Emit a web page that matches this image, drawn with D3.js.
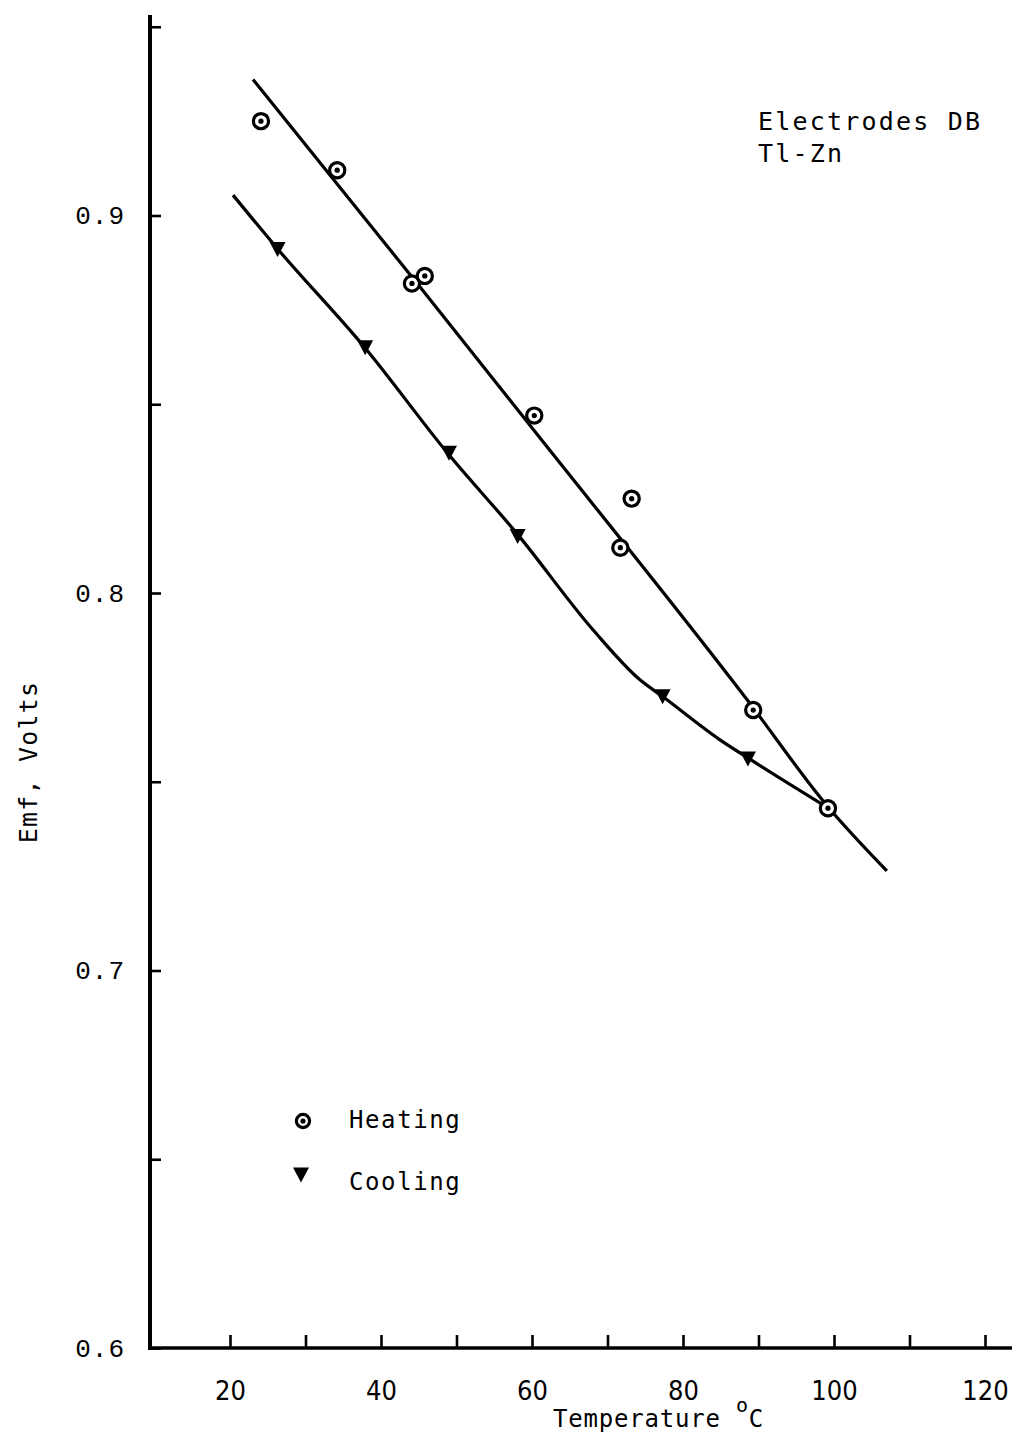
<!DOCTYPE html>
<html><head><meta charset="utf-8">
<script src="https://cdn.jsdelivr.net/npm/d3@7"></script>
<style>
body{margin:0;background:#fff}
text{fill:#000}
</style>
</head><body>
<svg id="chart" width="1018" height="1436"></svg>
<script>
// Heating run: measured points (temperature in °C, emf in volts)
const heatingTemp = [24.1, 34.2, 44.1, 45.8, 60.3, 73.2, 71.7, 89.3, 99.2];
const heatingEmf  = [0.925, 0.912, 0.882, 0.884, 0.847, 0.825, 0.812, 0.769, 0.743];
// Cooling run: measured points
const coolingTemp = [26.3, 37.9, 49.0, 58.1, 77.3, 88.6];
const coolingEmf  = [0.891, 0.865, 0.837, 0.815, 0.7725, 0.756];
// Hand-drawn curve through the heating run
const heatingCurveTemp = [23.05, 45.2, 59.7, 88.5, 99.1, 107.0];
const heatingCurveEmf  = [0.936, 0.881, 0.8445, 0.7717, 0.7436, 0.7264];
// Hand-drawn curve through the cooling run, meeting the last heating point
const coolingCurveTemp = [20.4, 26.2, 37.9, 49.0, 58.15, 68.1, 74.3, 77.35, 84.9, 88.6, 99.1];
const coolingCurveEmf  = [0.9054, 0.8914, 0.8649, 0.8366, 0.8154, 0.7902, 0.777, 0.7725, 0.7611, 0.7563, 0.7432];
// Axis ticks and labels
const tempTicks = [20, 30, 40, 50, 60, 70, 80, 90, 100, 110, 120];
const tempTickLabels = ["20", "", "40", "", "60", "", "80", "", "100", "", "120"];
const emfTicks = [0.6, 0.65, 0.7, 0.75, 0.8, 0.85, 0.9, 0.95];
const emfTickLabels = ["0.6", "", "0.7", "", "0.8", "", "0.9", ""];

const svg = d3.select("#chart");
const x = d3.scaleLinear().domain([20, 120]).range([230, 985]);
const y = d3.scaleLinear().domain([0.6, 0.9]).range([1348, 215.5]);
const x0 = 150, yTop = 15, xRight = 1012;

const mono = "'DejaVu Sans Mono', 'Liberation Mono', monospace";

// Y axis
const yAxis = svg.append("g").attr("transform", `translate(${x0},0)`)
  .call(d3.axisLeft(y).tickValues(emfTicks).tickSize(-11).tickPadding(25)
    .tickFormat((d, i) => emfTickLabels[i]));
yAxis.select(".domain").remove();
yAxis.selectAll(".tick line").attr("stroke", "#000").attr("stroke-width", 2.6);
yAxis.selectAll(".tick text").attr("font-family", "'Liberation Mono', monospace")
  .attr("font-size", 26).attr("letter-spacing", 1);
svg.append("line").attr("x1", x0).attr("x2", x0).attr("y1", yTop).attr("y2", y(0.6) + 2)
  .attr("stroke", "#000").attr("stroke-width", 4);

// X axis
const xAxis = svg.append("g").attr("transform", `translate(0,${y(0.6)})`)
  .call(d3.axisBottom(x).tickValues(tempTicks).tickSize(-13).tickPadding(33)
    .tickFormat((d, i) => tempTickLabels[i]));
xAxis.select(".domain").remove();
xAxis.selectAll(".tick line").attr("stroke", "#000").attr("stroke-width", 2.6);
xAxis.selectAll(".tick text").attr("font-family", "'Liberation Sans Narrow', 'DejaVu Sans Condensed', sans-serif")
  .attr("font-size", 27);
svg.append("line").attr("x1", x0 - 2).attr("x2", xRight).attr("y1", y(0.6)).attr("y2", y(0.6))
  .attr("stroke", "#000").attr("stroke-width", 3.6);

// Axis titles
const xt = svg.append("text").attr("x", 553).attr("y", 1427)
  .attr("font-family", mono).attr("font-size", 24).attr("letter-spacing", 0.8);
xt.append("tspan").text("Temperature ");
xt.append("tspan").attr("font-size", 20).attr("dy", -15).text("o");
xt.append("tspan").attr("dy", 15).text("C");

svg.append("text").attr("transform", "translate(37,762) rotate(-90)")
  .attr("text-anchor", "middle").attr("font-family", mono).attr("font-size", 25)
  .attr("letter-spacing", 1.2).text("Emf, Volts");

// Annotation
svg.append("text").attr("x", 758).attr("y", 130).attr("font-family", mono)
  .attr("font-size", 25).attr("letter-spacing", 2.2).text("Electrodes DB");
svg.append("text").attr("x", 758).attr("y", 162).attr("font-family", mono)
  .attr("font-size", 25).attr("letter-spacing", 2.2).text("Tl-Zn");

// Curves
const line = d3.line().x(d => x(d[0])).y(d => y(d[1])).curve(d3.curveMonotoneX);
svg.append("path").datum(d3.zip(heatingCurveTemp, heatingCurveEmf)).attr("d", line)
  .attr("fill", "none").attr("stroke", "#000").attr("stroke-width", 3.2);
svg.append("path").datum(d3.zip(coolingCurveTemp, coolingCurveEmf)).attr("d", line)
  .attr("fill", "none").attr("stroke", "#000").attr("stroke-width", 3.2);

// Markers
function heatMarker(g, cx, cy, r) {
  g.append("circle").attr("cx", cx).attr("cy", cy).attr("r", r)
    .attr("fill", "#fff").attr("stroke", "#000").attr("stroke-width", 3.2);
  g.append("circle").attr("cx", cx).attr("cy", cy).attr("r", 2.6).attr("fill", "#000");
}
function coolMarker(g, cx, cy, w, h) {
  g.append("path")
    .attr("d", `M${cx - w / 2},${cy - h / 2}L${cx + w / 2},${cy - h / 2}L${cx},${cy + h / 2}Z`)
    .attr("fill", "#000");
}
const marks = svg.append("g");
d3.zip(coolingTemp, coolingEmf).forEach(d => coolMarker(marks, x(d[0]), y(d[1]), 16, 15));
d3.zip(heatingTemp, heatingEmf).forEach(d => heatMarker(marks, x(d[0]), y(d[1]), 7.6));

// Legend
const leg = svg.append("g");
heatMarker(leg, 303, 1121, 6.6);
coolMarker(leg, 301, 1175, 16, 15);
leg.append("text").attr("x", 349).attr("y", 1128).attr("font-family", mono)
  .attr("font-size", 24).attr("letter-spacing", 1.6).text("Heating");
leg.append("text").attr("x", 349).attr("y", 1190).attr("font-family", mono)
  .attr("font-size", 24).attr("letter-spacing", 1.6).text("Cooling");
</script>
</body></html>
